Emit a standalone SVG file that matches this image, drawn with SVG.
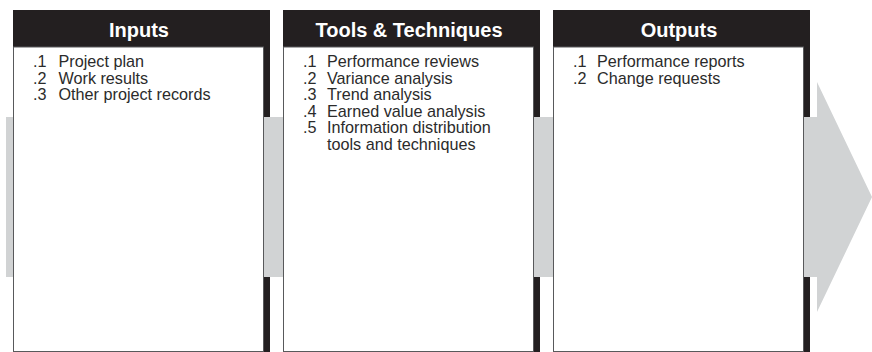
<svg xmlns="http://www.w3.org/2000/svg" width="872" height="352" viewBox="0 0 872 352">
<style>
.hdr{fill:#231f20}
.panel{fill:#ffffff;stroke:#58595b;stroke-width:1}
.title{font-family:"Liberation Sans",Arial,sans-serif;font-weight:bold;font-size:20px;fill:#ffffff;text-anchor:middle}
.item{font-family:"Liberation Sans",Arial,sans-serif;font-size:16.2px;fill:#2b2b2b}
.flow{fill:#d1d3d4}
</style>
<rect width="872" height="352" fill="#ffffff"/>
<g id="connectors">
<polygon class="flow" points="6,117 817,117 817,82 872,197 817,312 817,277 6,277"/>
</g>
<g id="inputs">
<rect class="hdr" x="13" y="10" width="257" height="37"/>
<rect class="hdr" x="264" y="47" width="6" height="70"/>
<rect class="hdr" x="264" y="277" width="6" height="75"/>
<rect class="panel" x="13.5" y="47" width="250" height="304.5"/>
<text class="title" x="139" y="37">Inputs</text>
<text class="item" x="33" y="67">.1</text><text class="item" x="58.5" y="67">Project plan</text>
<text class="item" x="33" y="83.6">.2</text><text class="item" x="58.5" y="83.6">Work results</text>
<text class="item" x="33" y="100.2">.3</text><text class="item" x="58.5" y="100.2">Other project records</text>
</g>
<g id="tools">
<rect class="hdr" x="283" y="10" width="257" height="37"/>
<rect class="hdr" x="534" y="47" width="6" height="70"/>
<rect class="hdr" x="534" y="277" width="6" height="75"/>
<rect class="panel" x="283.5" y="47" width="250" height="304.5"/>
<text class="title" x="409" y="37">Tools &amp; Techniques</text>
<text class="item" x="303" y="67">.1</text><text class="item" x="327" y="67">Performance reviews</text>
<text class="item" x="303" y="83.6">.2</text><text class="item" x="327" y="83.6">Variance analysis</text>
<text class="item" x="303" y="100.2">.3</text><text class="item" x="327" y="100.2">Trend analysis</text>
<text class="item" x="303" y="116.8">.4</text><text class="item" x="327" y="116.8">Earned value analysis</text>
<text class="item" x="303" y="133.4">.5</text><text class="item" x="327" y="133.4">Information distribution</text>
<text class="item" x="327" y="150">tools and techniques</text>
</g>
<g id="outputs">
<rect class="hdr" x="553" y="10" width="257" height="37"/>
<rect class="hdr" x="804" y="47" width="6" height="70"/>
<rect class="hdr" x="804" y="277" width="6" height="75"/>
<rect class="panel" x="553.5" y="47" width="250" height="304.5"/>
<text class="title" x="679" y="37">Outputs</text>
<text class="item" x="573" y="67">.1</text><text class="item" x="597" y="67">Performance reports</text>
<text class="item" x="573" y="83.6">.2</text><text class="item" x="597" y="83.6">Change requests</text>
</g>
</svg>
